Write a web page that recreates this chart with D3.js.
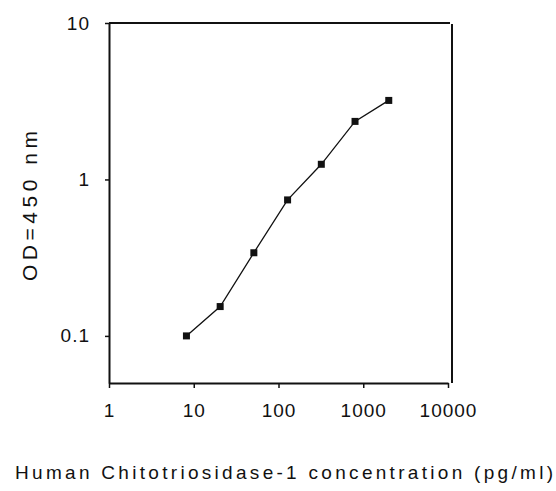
<!DOCTYPE html>
<html>
<head>
<meta charset="utf-8">
<script src="https://cdn.jsdelivr.net/npm/d3@7"></script>
<style>
	body{margin:0;background:#fff}
	text{font-family:Arial,"Liberation Sans",sans-serif;fill:#111}
</style>
</head>
<body>
<div class="chart"></div>
<script>
const concentration=[8.2,20.5,51.2,128,320,800,2000]
const od=[0.1,0.154,0.34,0.74,1.25,2.35,3.2]
const xTicks=[1,10,100,1000,10000]
const yTicks=[0.1,1,10]

const width=556,height=491

const svg=d3.select('.chart').append('svg')
	.attr('width',width)
	.attr('height',height)

const xScale=d3.scaleLog()
	.domain([1,10000])
	.range([109,448])

const yScale=d3.scaleLog()
	.domain([0.05,10])
	.range([383,23])

const xAxis=d3.axisBottom(xScale)
	.tickValues(xTicks)
	.tickFormat(d3.format('d'))
	.tickSize(5)
	.tickSizeOuter(0)
	.tickPadding(16)

const yAxis=d3.axisLeft(yScale)
	.tickValues(yTicks)
	.tickFormat(d=>d<1?'0.1':d3.format('d')(d))
	.tickSize(4)
	.tickSizeOuter(0)
	.tickPadding(15)

// frame top and right
svg.append('line')
	.attr('x1',109).attr('x2',450)
	.attr('y1',23).attr('y2',23)
	.attr('stroke','#111').attr('stroke-width',2)
svg.append('line')
	.attr('x1',452).attr('x2',452)
	.attr('y1',24).attr('y2',383)
	.attr('stroke','#111').attr('stroke-width',2)

const gx=svg.append('g')
	.attr('transform','translate(0,383)')
	.call(xAxis)
const gy=svg.append('g')
	.attr('transform','translate(109,0)')
	.call(yAxis)

svg.selectAll('.domain')
	.attr('stroke','#111')
	.attr('stroke-width',2)
svg.selectAll('.tick line')
	.attr('stroke','#111')
	.attr('stroke-width',1.5)
svg.selectAll('.tick text')
	.style('font-size','19px')
	.style('letter-spacing','1px')
	.attr('fill','#222')

const points=concentration.map((c,i)=>({x:c,y:od[i]}))

const line=d3.line()
	.x(d=>xScale(d.x))
	.y(d=>yScale(d.y))

svg.append('path')
	.datum(points)
	.attr('d',line)
	.attr('fill','none')
	.attr('stroke','#111')
	.attr('stroke-width',1.3)

svg.selectAll('.marker')
	.data(points)
	.enter()
	.append('rect')
	.attr('class','marker')
	.attr('x',d=>xScale(d.x)-3.5)
	.attr('y',d=>yScale(d.y)-3.5)
	.attr('width',7)
	.attr('height',7)
	.attr('fill','#111')

svg.append('text')
	.attr('transform','translate(37,206) rotate(-90)')
	.attr('text-anchor','middle')
	.attr('textLength',150)
	.attr('lengthAdjust','spacing')
	.style('font-size','21px')
	.attr('fill','#222')
	.text('OD=450 nm')

svg.append('text')
	.attr('x',15)
	.attr('y',479)
	.attr('textLength',538)
	.attr('lengthAdjust','spacing')
	.style('font-size','19px')
	.attr('fill','#222')
	.text('Human Chitotriosidase-1 concentration (pg/ml)')
</script>
</body>
</html>
